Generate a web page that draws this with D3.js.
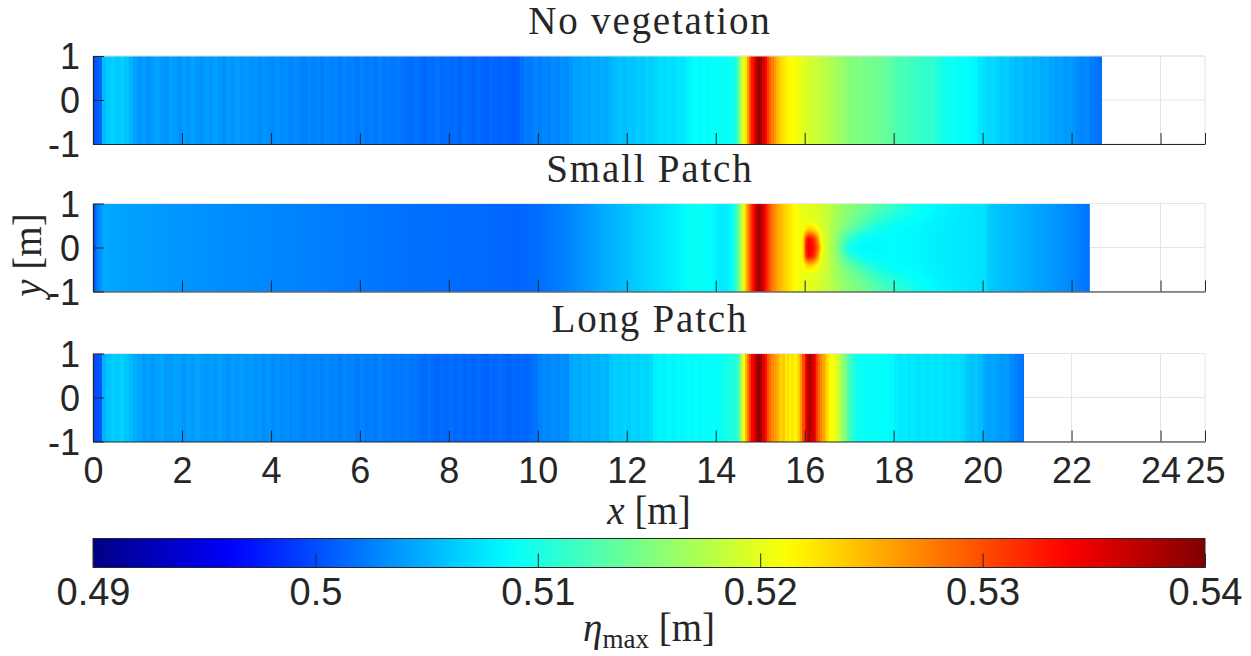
<!DOCTYPE html>
<html>
<head>
<meta charset="utf-8">
<script src="https://cdn.jsdelivr.net/npm/d3@7"></script>
<style>
  html, body { margin: 0; padding: 0; background: #fff; }
  svg { display: block; }
</style>
</head>
<body>
<svg id="chart" width="1251" height="656"></svg>
<script>
// ---------------------------------------------------------------
// Maximum free-surface elevation eta_max [m] over the flume (x, y)
// ---------------------------------------------------------------
const xTicks = [0, 2, 4, 6, 8, 10, 12, 14, 16, 18, 20, 22, 24, 25];
const yTicks = [-1, 0, 1];
const cbTicks = [0.49, 0.5, 0.51, 0.52, 0.53, 0.54];
const cbTickLabels = ["0.49", "0.5", "0.51", "0.52", "0.53", "0.54"];
const panelTitles = ["No vegetation", "Small Patch", "Long Patch"];

// --- No vegetation: column values (uniform across y) ---
// x = 0 .. 14.4, 0.1 m columns
const noVegHead = [
  0.5002,0.5010,0.5055,0.5062,0.5066,0.5060,0.5064,0.5058,0.5050,
  0.5042,0.5036,0.5040,0.5034,0.5039,0.5043,0.5037,0.5035,0.5041,0.5038,
  0.5033,0.5040,0.5036,0.5042,0.5037,0.5034,0.5039,0.5035,0.5040,0.5036,
  0.5032,0.5038,0.5035,0.5039,0.5034,0.5037,0.5033,0.5036,0.5031,0.5035,0.5032,
  0.5030,0.5034,0.5029,0.5032,0.5027,0.5031,0.5028,0.5025,0.5030,0.5026,
  0.5028,0.5024,0.5029,0.5025,0.5027,0.5023,0.5028,0.5024,0.5026,0.5022,
  0.5027,0.5023,0.5025,0.5021,0.5026,0.5022,0.5024,0.5020,0.5023,0.5019,
  0.5018,0.5015,0.5020,0.5016,0.5013,0.5018,0.5015,0.5019,0.5014,0.5017,
  0.5013,0.5016,0.5012,0.5017,0.5014,0.5011,0.5016,0.5013,0.5010,0.5015,
  0.5012,0.5009,0.5013,0.5010,0.5008,0.5012,
  0.5018,0.5024,0.5021,0.5027,0.5024,0.5029,0.5026,0.5031,0.5028,0.5034,0.5031,
  0.5038,0.5042,0.5040,0.5045,0.5042,0.5047,0.5044,0.5049,0.5046,0.5051,
  0.5054,0.5058,0.5056,0.5060,0.5058,0.5063,0.5060,0.5065,0.5063,
  0.5068,0.5072,0.5070,0.5075,0.5072,0.5077,0.5075,0.5080,
  0.5084,0.5088,0.5086,0.5090,0.5087,0.5091,0.5088,0.5092,0.5090,0.5095
];
// x = 14.4 .. 16.0, 0.05 m columns (breaking-wave crest)
const noVegPeak = [
  0.5100,0.5115,0.5140,0.5170,0.5200,0.5225,0.5260,0.5295,
  0.5330,0.5355,0.5378,0.5390,0.5382,0.5355,0.5335,0.5310,
  0.5290,0.5275,0.5262,0.5250,0.5240,0.5232,0.5226,0.5220,
  0.5216,0.5213,0.5210,0.5211,0.5207,0.5205,0.5201,0.5198
];
// x = 16.0 .. end, 0.1 m columns
const noVegTail = [
  0.5194,0.5190,0.5186,0.5183,0.5179,0.5176,
  0.5170,0.5166,0.5161,0.5157,
  0.5152,0.5148,0.5150,0.5145,0.5147,0.5142,0.5144,0.5139,0.5136,0.5132,
  0.5126,0.5122,0.5124,0.5119,0.5116,0.5118,0.5113,0.5110,0.5112,0.5106,
  0.5100,0.5096,0.5093,0.5095,0.5090,0.5088,0.5090,0.5086,0.5083,
  0.5076,0.5072,0.5068,0.5070,0.5065,0.5062,0.5064,
  0.5058,0.5054,0.5056,0.5051,0.5053,0.5049,0.5051,0.5046,0.5048,
  0.5043,0.5040,0.5042,0.5037,0.5039,0.5035,
  0.5031,0.5028,0.5030,0.5024,0.5021,0.5016
];
const noVegEnd = 22.69;

// --- Long patch: column values (uniform across y) ---
const longHead = [
  0.5000,0.5003,
  0.5050,0.5058,0.5064,0.5061,0.5066,0.5059,0.5054,0.5048,
  0.5044,0.5038,0.5042,0.5036,0.5041,0.5045,0.5039,0.5037,0.5042,0.5040,
  0.5035,0.5041,0.5038,0.5043,0.5039,0.5036,0.5040,0.5037,0.5041,0.5038,
  0.5034,0.5039,0.5036,0.5040,0.5035,0.5038,0.5034,0.5037,0.5032,0.5036,
  0.5031,0.5035,0.5030,0.5033,0.5028,0.5032,0.5029,0.5026,0.5031,0.5027,
  0.5029,0.5025,0.5030,0.5026,0.5028,0.5024,0.5029,0.5025,0.5027,0.5023,
  0.5028,0.5024,0.5026,0.5022,0.5027,0.5023,0.5025,0.5021,0.5024,0.5020,
  0.5023,0.5019,0.5021,
  0.5017,0.5014,0.5019,0.5015,0.5012,0.5017,0.5014,0.5018,0.5013,0.5016,
  0.5012,0.5015,0.5011,0.5016,0.5013,0.5010,0.5015,0.5012,0.5016,0.5013,
  0.5010,0.5014,0.5011,0.5015,0.5012,0.5016,0.5019,
  0.5026,0.5030,0.5027,0.5032,0.5029,0.5034,0.5031,
  0.5044,0.5048,0.5045,0.5050,0.5047,0.5052,0.5049,0.5054,0.5051,
  0.5060,0.5064,0.5062,0.5066,0.5063,0.5068,0.5065,0.5069,0.5067,0.5071,
  0.5080,0.5084,0.5082,0.5086,0.5083,0.5087,0.5085,0.5088,0.5086,0.5089,
  0.5087,0.5090,0.5088,0.5091,0.5089,
  0.5093,0.5098,0.5102
];
// x = 14.4 .. 17.2, 0.05 m columns (crest and patch run-up)
const longPeak = [
  0.5105,0.5112,0.5125,0.5160,0.5205,0.5245,0.5280,0.5310,
  0.5338,0.5360,0.5382,0.5392,0.5385,0.5352,0.5330,0.5300,
  0.5285,0.5270,0.5262,0.5255,0.5245,0.5232,0.5238,0.5222,
  0.5230,0.5218,0.5225,0.5215,0.5222,0.5240,0.5262,0.5300,
  0.5340,0.5370,0.5385,0.5362,0.5340,0.5310,0.5288,0.5272,
  0.5258,0.5240,0.5225,0.5215,0.5210,0.5203,0.5195,0.5185,
  0.5172,0.5158,0.5145,0.5130,0.5118,0.5108,0.5100,0.5094
];
// x = 17.2 .. end, 0.1 m columns
const longTail = [
  0.5093,0.5090,0.5092,0.5088,0.5091,0.5087,0.5089,0.5085,
  0.5080,0.5077,0.5079,0.5075,0.5078,0.5074,0.5076,0.5073,
  0.5077,0.5074,0.5076,0.5072,0.5075,0.5071,0.5073,0.5070,
  0.5062,0.5058,0.5060,0.5055,
  0.5046,0.5042,0.5044,0.5040,0.5037,0.5039,
  0.5030,0.5026,0.5022,0.5018
];
const longEnd = 20.92;

// --- Small patch: smooth field ---
// upstream of the patch the field is uniform across y
const smallUpX = [0, 0.10, 0.24, 0.25, 0.26, 0.60, 1.5, 3.0, 5.0, 7.0, 8.5, 9.5,
  10.0, 10.5, 11.0, 11.5, 12.0, 12.5, 13.0, 13.3, 13.6, 13.9, 14.1, 14.3, 14.4,
  14.5, 14.6, 14.7, 14.8, 14.9, 14.97, 15.05, 15.15, 15.25, 15.4, 15.55, 15.7, 15.9];
const smallUpEta = [0.4995, 0.5025, 0.5045, 0.5062, 0.5045, 0.5042, 0.5038, 0.5032,
  0.5025, 0.5018, 0.5015, 0.5012, 0.5016, 0.5024, 0.5035, 0.5047, 0.5058, 0.5068,
  0.5078, 0.5086, 0.5092, 0.5088, 0.5078, 0.5082, 0.5095, 0.5130, 0.5190, 0.5255,
  0.5310, 0.5360, 0.5392, 0.5365, 0.5320, 0.5285, 0.5255, 0.5235, 0.5220, 0.5205];
// around and behind the patch: rows at |y| = 0, 0.2, ..., 1.0
const smallWakeX = [15.90, 15.98, 16.02, 16.08, 16.15, 16.22, 16.30, 16.36, 16.42,
  16.55, 16.70, 16.85, 17.00, 17.30, 17.60, 18.00, 18.50, 19.00, 19.50, 20.05,
  20.15, 21.00, 22.00, 22.41];
const smallWakeY = [0, 0.2, 0.4, 0.6, 0.8, 1.0];
const wakeRow00 = [0.5205,0.5240,0.5318,0.5345,0.5340,0.5325,0.5290,0.5230,0.5200,
  0.5180,0.5160,0.5125,0.5092,0.5086,0.5085,0.5087,0.5085,0.5080,0.5077,0.5073,
  0.5062,0.5048,0.5030,0.5018];
const wakeRow02 = [0.5205,0.5235,0.5305,0.5335,0.5330,0.5310,0.5260,0.5215,0.5198,
  0.5180,0.5160,0.5135,0.5110,0.5090,0.5087,0.5087,0.5085,0.5080,0.5077,0.5073,
  0.5062,0.5048,0.5030,0.5018];
const wakeRow04 = [0.5205,0.5212,0.5225,0.5240,0.5238,0.5228,0.5212,0.5200,0.5193,
  0.5182,0.5165,0.5150,0.5138,0.5112,0.5095,0.5088,0.5085,0.5080,0.5077,0.5073,
  0.5062,0.5048,0.5030,0.5018];
const wakeRow06 = [0.5205,0.5203,0.5202,0.5200,0.5199,0.5197,0.5195,0.5193,0.5190,
  0.5180,0.5168,0.5157,0.5148,0.5130,0.5112,0.5095,0.5087,0.5081,0.5077,0.5073,
  0.5062,0.5048,0.5030,0.5018];
const wakeRow08 = [0.5205,0.5203,0.5202,0.5200,0.5198,0.5196,0.5193,0.5191,0.5188,
  0.5180,0.5170,0.5160,0.5152,0.5140,0.5125,0.5108,0.5092,0.5083,0.5078,0.5073,
  0.5062,0.5048,0.5030,0.5018];
const wakeRow10 = [0.5205,0.5203,0.5202,0.5200,0.5198,0.5196,0.5193,0.5191,0.5188,
  0.5182,0.5173,0.5164,0.5156,0.5145,0.5132,0.5115,0.5095,0.5085,0.5079,0.5074,
  0.5062,0.5048,0.5030,0.5018];
const smallWakeEta = [wakeRow00, wakeRow02, wakeRow04, wakeRow06, wakeRow08, wakeRow10];
const smallEnd = 22.41;

// ---------------------------------------------------------------
// Layout and scales
// ---------------------------------------------------------------
const svg = d3.select("#chart");
const ink = "#262626";
const gridColor = "#e4e4e4";
const sans = "'Liberation Sans', Arial, Helvetica, sans-serif";
const serif = "'Liberation Serif', 'Times New Roman', serif";
const plainNumber = d => String(d);   // keeps an ASCII hyphen for negatives

const x = d3.scaleLinear().domain([0, 25]).range([93, 1205]);
const panelTop = [56, 203.5, 353.5];
const panelH = 88;

const etaDomain = d3.extent(cbTicks);
const jetT = [0, 1 / 8, 3 / 8, 5 / 8, 7 / 8, 1];
const jetColors = ["#000084", "#0000ff", "#00ffff", "#ffff00", "#ff0000", "#800000"];
const color = d3.scaleLinear()
  .domain(jetT.map(t => etaDomain[0] + t * (etaDomain[1] - etaDomain[0])))
  .range(jetColors)
  .clamp(true);

// flat-shaded columns from segments of equally spaced values
function buildColumns(segments, xEnd) {
  const cols = [];
  segments.forEach(s => {
    s.values.forEach((v, i) => {
      const x0 = s.x0 + i * s.dx;
      const x1 = Math.min(s.x0 + (i + 1) * s.dx, xEnd);
      if (x1 > x0) cols.push({ x0, x1, v });
    });
  });
  return cols;
}

const noVegCols = buildColumns([
  { x0: 0, dx: 0.1, values: noVegHead },
  { x0: 14.4, dx: 0.05, values: noVegPeak },
  { x0: 16.0, dx: 0.1, values: noVegTail }
], noVegEnd);

const longCols = buildColumns([
  { x0: 0, dx: 0.1, values: longHead },
  { x0: 14.4, dx: 0.05, values: longPeak },
  { x0: 17.2, dx: 0.1, values: longTail }
], longEnd);

// smooth (interpolated) field of the small-patch case
const upProfile = d3.scaleLinear().domain(smallUpX).range(smallUpEta).clamp(true);
const wakeProfiles = smallWakeEta.map(row => d3.scaleLinear().domain(smallWakeX).range(row).clamp(true));
function smallEta(xv, yv) {
  if (xv <= smallWakeX[0]) return upProfile(xv);
  const ay = Math.min(Math.abs(yv), 1);
  const across = wakeProfiles.map(p => p(xv));
  return d3.scaleLinear().domain(smallWakeY).range(across)(ay);
}

function smallFieldImage(yScale) {
  const px0 = x(0), px1 = x(smallEnd);
  const w = Math.round(px1 - px0), h = panelH;
  const canvas = document.createElement("canvas");
  canvas.width = w; canvas.height = h;
  const ctx = canvas.getContext("2d");
  const img = ctx.createImageData(w, h);
  for (let j = 0; j < h; j++) {
    const yv = yScale.invert(yScale.range()[1] + j + 0.5);
    for (let i = 0; i < w; i++) {
      const xv = x.invert(px0 + (i + 0.5) * (px1 - px0) / w);
      const c = d3.rgb(color(smallEta(xv, yv)));
      const k = (j * w + i) * 4;
      img.data[k] = c.r; img.data[k + 1] = c.g; img.data[k + 2] = c.b; img.data[k + 3] = 255;
    }
  }
  ctx.putImageData(img, 0, 0);
  return { href: canvas.toDataURL(), x: px0, w: px1 - px0 };
}

// ---------------------------------------------------------------
// Panels
// ---------------------------------------------------------------
panelTitles.forEach((title, p) => {
  const top = panelTop[p];
  const y = d3.scaleLinear().domain([-1, 1]).range([top + panelH, top]);
  const g = svg.append("g");

  // grid
  g.selectAll(".gx").data(xTicks).join("line")
    .attr("x1", d => x(d)).attr("x2", d => x(d))
    .attr("y1", y(-1)).attr("y2", y(1))
    .attr("stroke", gridColor).attr("stroke-width", 1);
  g.selectAll(".gy").data(yTicks).join("line")
    .attr("x1", x(0)).attr("x2", x(25))
    .attr("y1", d => y(d)).attr("y2", d => y(d))
    .attr("stroke", gridColor).attr("stroke-width", 1);

  // field
  if (p === 1) {
    const im = smallFieldImage(y);
    g.append("image")
      .attr("href", im.href)
      .attr("x", im.x).attr("y", y(1))
      .attr("width", im.w).attr("height", y(-1) - y(1))
      .attr("preserveAspectRatio", "none");
  } else {
    const cols = p === 0 ? noVegCols : longCols;
    g.selectAll("rect.col").data(cols).join("rect")
      .attr("class", "col")
      .attr("x", d => x(d.x0))
      .attr("width", d => x(d.x1) - x(d.x0))
      .attr("y", y(1))
      .attr("height", y(-1) - y(1))
      .attr("fill", d => color(d.v))
      .attr("shape-rendering", "crispEdges");
  }

  // top limit line
  g.append("line")
    .attr("x1", x(0)).attr("x2", x(25))
    .attr("y1", y(1)).attr("y2", y(1))
    .attr("stroke", gridColor).attr("stroke-width", 1);

  // axes (inward ticks, box off)
  const xAxis = d3.axisBottom(x).tickValues(xTicks).tickSizeInner(-11).tickSizeOuter(0)
    .tickFormat(p === 2 ? plainNumber : () => "");
  const gx = g.append("g").attr("transform", `translate(0,${y(-1)})`).call(xAxis);
  const yAxis = d3.axisLeft(y).tickValues(yTicks).tickSizeInner(-11).tickSizeOuter(0)
    .tickFormat(plainNumber);
  const gy = g.append("g").attr("transform", `translate(${x(0)},0)`).call(yAxis);

  [gx, gy].forEach(a => {
    a.select(".domain").attr("stroke", ink).attr("stroke-width", 1.2);
    a.selectAll(".tick line").attr("stroke", ink).attr("stroke-width", 1);
    a.selectAll(".tick text")
      .attr("fill", ink)
      .style("font-family", sans)
      .style("font-size", "36px");
  });
  gx.selectAll(".tick text").attr("y", 16).attr("dy", "0.71em");
  gy.selectAll(".tick text").attr("x", -13).attr("dy", "0.35em");

  // title
  g.append("text")
    .attr("x", x(12.5) + 0.9).attr("y", top - 22)
    .attr("text-anchor", "middle")
    .style("font-family", serif).style("font-size", "39px")
    .style("letter-spacing", "1.8px")
    .attr("fill", ink)
    .text(title);
});

// axis labels
const yLab = svg.append("text")
  .attr("transform", "translate(41,255) rotate(-90)")
  .attr("text-anchor", "middle")
  .style("font-family", serif).style("font-size", "39px")
  .attr("fill", ink);
yLab.append("tspan").style("font-style", "italic").text("y");
yLab.append("tspan").text(" [m]");

const xLab = svg.append("text")
  .attr("x", x(12.5)).attr("y", 524)
  .attr("text-anchor", "middle")
  .style("font-family", serif).style("font-size", "39px")
  .attr("fill", ink);
xLab.append("tspan").style("font-style", "italic").text("x");
xLab.append("tspan").text(" [m]");

// ---------------------------------------------------------------
// Colour bar
// ---------------------------------------------------------------
const cbTop = 538.5, cbH = 29;
const cbX = d3.scaleLinear().domain(etaDomain).range([x(0), x(25)]);
const grad = svg.append("defs").append("linearGradient")
  .attr("id", "jet").attr("x1", "0%").attr("x2", "100%").attr("y1", "0%").attr("y2", "0%");
d3.range(0, 1.0001, 0.02).forEach(t => {
  grad.append("stop")
    .attr("offset", `${t * 100}%`)
    .attr("stop-color", color(etaDomain[0] + t * (etaDomain[1] - etaDomain[0])));
});
svg.append("rect")
  .attr("x", cbX.range()[0]).attr("y", cbTop)
  .attr("width", cbX.range()[1] - cbX.range()[0]).attr("height", cbH)
  .attr("fill", "url(#jet)")
  .attr("stroke", ink).attr("stroke-width", 1);

const cbAxis = d3.axisBottom(cbX).tickValues(cbTicks).tickSizeInner(-14).tickSizeOuter(0)
  .tickFormat((d, i) => cbTickLabels[i]);
const gcb = svg.append("g").attr("transform", `translate(0,${cbTop + cbH})`).call(cbAxis);
gcb.select(".domain").remove();
gcb.selectAll(".tick line").attr("stroke", ink).attr("stroke-width", 1);
gcb.selectAll(".tick text")
  .attr("fill", ink).attr("y", 11).attr("dy", "0.71em")
  .style("font-family", sans).style("font-size", "38px");

const cbLab = svg.append("text")
  .attr("x", x(12.5)).attr("y", 641)
  .attr("text-anchor", "middle")
  .style("font-family", serif).style("font-size", "39px")
  .attr("fill", ink);
cbLab.append("tspan").style("font-style", "italic").text("η");
cbLab.append("tspan").attr("dy", 7).style("font-size", "27px").text("max");
cbLab.append("tspan").attr("dy", -7).text(" [m]");
</script>
</body>
</html>
